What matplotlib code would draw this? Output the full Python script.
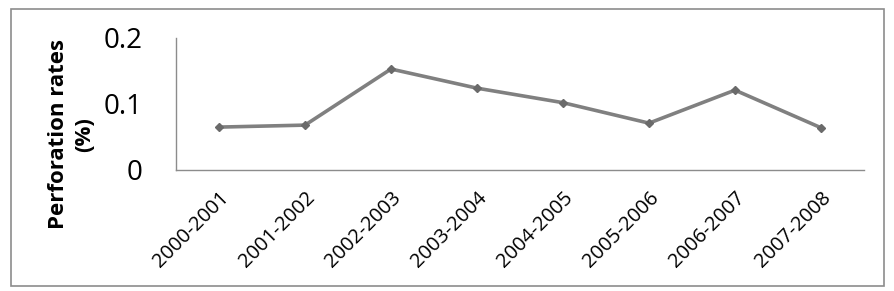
import matplotlib.pyplot as plt
from matplotlib.patches import Rectangle

# perforation rates by year
years = ['2000-2001', '2001-2002', '2002-2003', '2003-2004',
         '2004-2005', '2005-2006', '2006-2007', '2007-2008']
rates = [0.065, 0.068, 0.153, 0.124, 0.102, 0.071, 0.121, 0.064]
yticks = [0, 0.1, 0.2]
ytick_labels = ['0', '0.1', '0.2']

plt.rcParams['font.family'] = ['Open Sans', 'DejaVu Sans']

fig = plt.figure(figsize=(8.94, 2.91), dpi=100)
ax = fig.add_axes([176 / 894, 1 - 170 / 291, 688 / 894, 132 / 291])

# outer chart frame
fig.patches.append(Rectangle((11 / 894, 5 / 291), 873 / 894, 277 / 291,
                             transform=fig.transFigure, fill=False,
                             edgecolor='#8c8c8c', linewidth=1.2))

x = list(range(len(years)))
ax.plot(x, rates, color='#808080', linewidth=2.6, marker='D', markersize=4,
        markerfacecolor='#6a6a6a', markeredgecolor='#6a6a6a')

ax.set_xlim(-0.5, len(years) - 0.5)
ax.set_ylim(0, 0.2)
ax.set_xticks(x)
ax.set_xticklabels(years, rotation=45, ha='right', rotation_mode='anchor', fontsize=14.5)
ax.set_yticks(yticks)
ax.set_yticklabels(ytick_labels, fontsize=20)
ax.tick_params(axis='both', length=0)
ax.tick_params(axis='y', pad=24)
ax.tick_params(axis='x', pad=13)

for s in ['top', 'right']:
    ax.spines[s].set_visible(False)
for s in ['left', 'bottom']:
    ax.spines[s].set_color('#8c8c8c')
    ax.spines[s].set_linewidth(1)

ax.set_ylabel('Perforation rates\n(%)', fontsize=16, fontweight='bold',
              linespacing=1.3)
ax.yaxis.set_label_coords(-0.118, 0.27)

fig.savefig('out.png', dpi=100)
